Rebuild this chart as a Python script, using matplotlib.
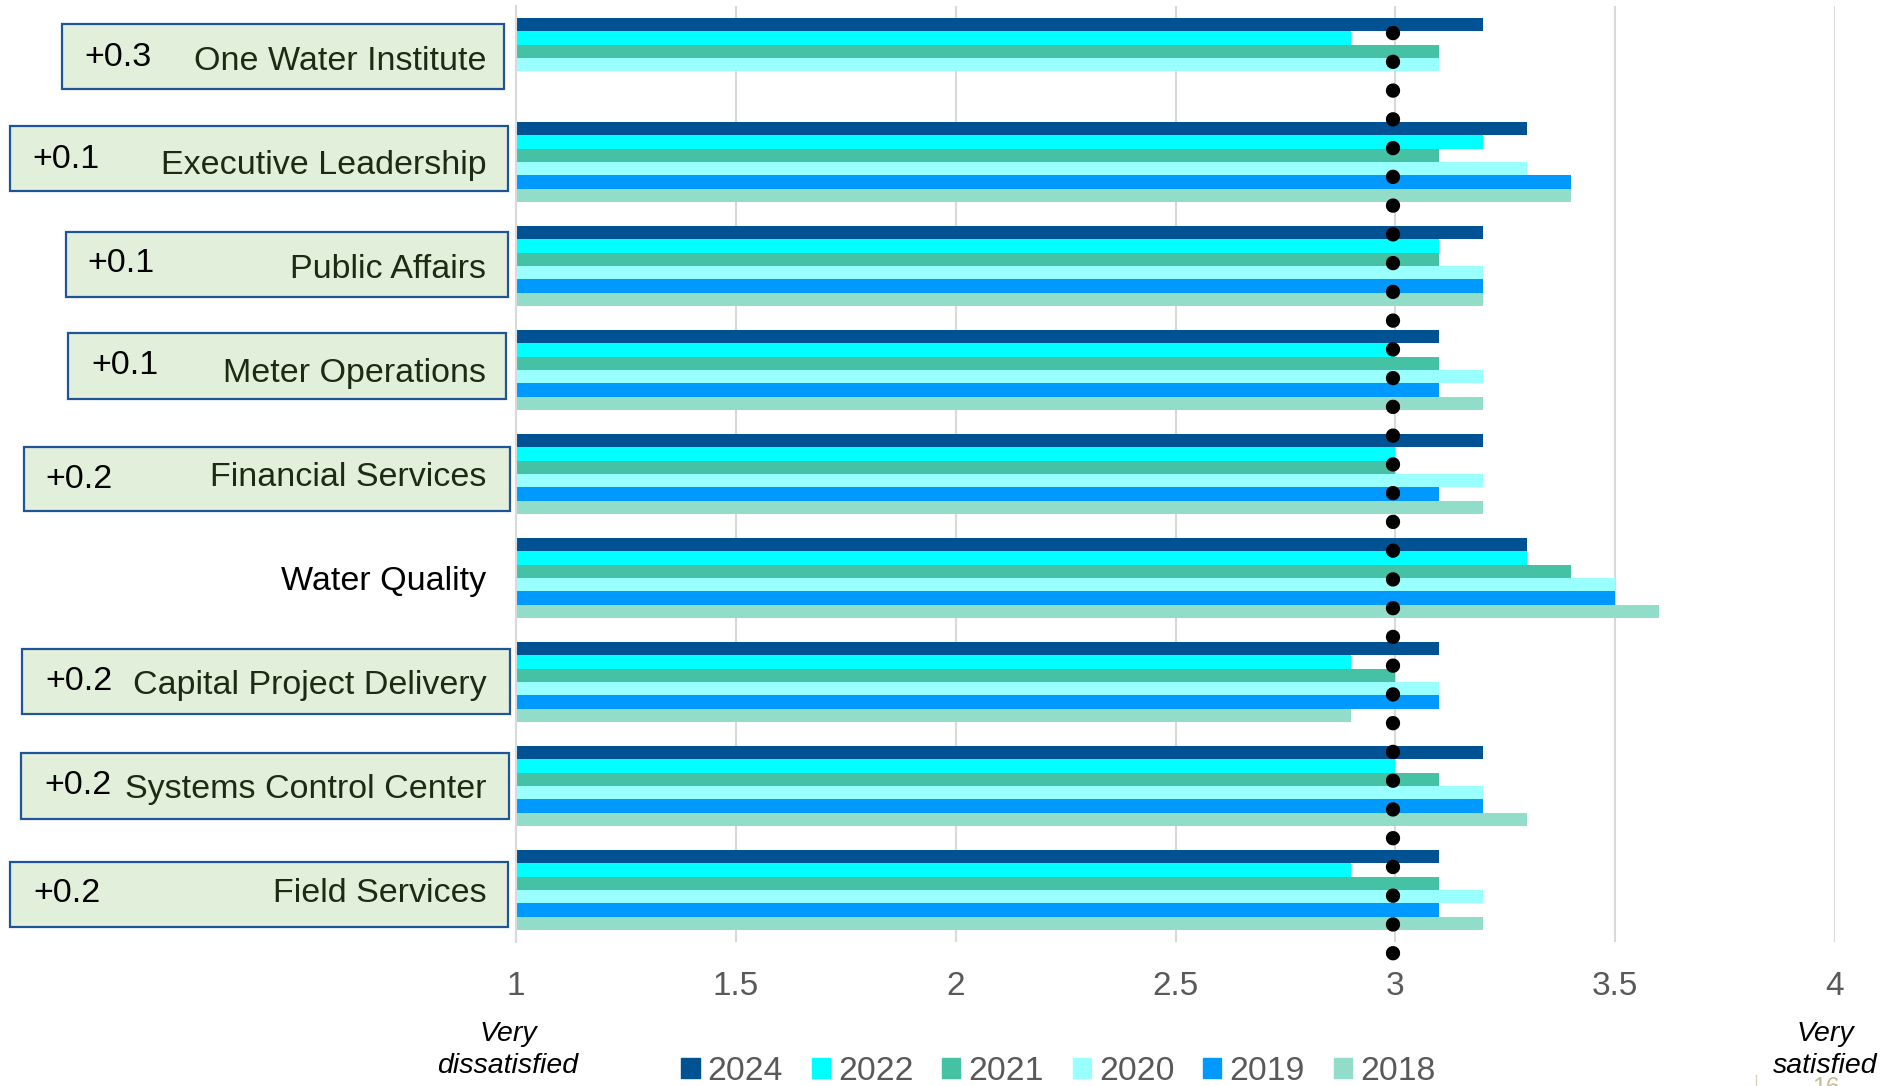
import matplotlib
matplotlib.use("Agg")
import matplotlib.pyplot as plt
import matplotlib.transforms as mtransforms
import numpy as np
from matplotlib.patches import Rectangle, Patch
from matplotlib.lines import Line2D

plt.rcParams['font.family'] = ['Liberation Sans', 'DejaVu Sans']

# --- data ---
categories = ["One Water Institute", "Executive Leadership", "Public Affairs",
              "Meter Operations", "Financial Services", "Water Quality",
              "Capital Project Delivery", "Systems Control Center", "Field Services"]
deltas = ["+0.3", "+0.1", "+0.1", "+0.1", "+0.2", "", "+0.2", "+0.2", "+0.2"]
years = ["2024", "2022", "2021", "2020", "2019", "2018"]
s2024 = [3.2, 3.3, 3.2, 3.1, 3.2, 3.3, 3.1, 3.2, 3.1]
s2022 = [2.9, 3.2, 3.1, 3.0, 3.0, 3.3, 2.9, 3.0, 2.9]
s2021 = [3.1, 3.1, 3.1, 3.1, 3.0, 3.4, 3.0, 3.1, 3.1]
s2020 = [3.1, 3.3, 3.2, 3.2, 3.2, 3.5, 3.1, 3.2, 3.2]
s2019 = [np.nan, 3.4, 3.2, 3.1, 3.1, 3.5, 3.1, 3.2, 3.1]
s2018 = [np.nan, 3.4, 3.2, 3.2, 3.2, 3.6, 2.9, 3.3, 3.2]
series = [s2024, s2022, s2021, s2020, s2019, s2018]
ref_value = 3  # neutral line
xticks = [1, 1.5, 2, 2.5, 3, 3.5, 4]
xticklabels = ["1", "1.5", "2", "2.5", "3", "3.5", "4"]

colors = ['#005292', '#00FFFF', '#45C1A3', '#99FFFF', '#0099FF', '#92DCCA']

W, H = 1900, 1086
fig = plt.figure(figsize=(19, 10.86), dpi=100)
ax = fig.add_axes([516 / W, 1 - 942 / H, (1835 - 516) / W, 936 / H])

y = np.arange(len(categories))
bar_h = 0.128
for j, (vals, c) in enumerate(zip(series, colors)):
    v = np.array(vals, dtype=float)
    ax.barh(y + (j - 2.5) * bar_h, v - 1, left=1, height=bar_h, color=c, label=years[j], zorder=2)

ax.set_xlim(1, 4)
ax.set_ylim(len(categories) - 0.5, -0.5)
ax.set_xticks(xticks)
ax.set_xticklabels(xticklabels)
ax.grid(axis='x', color='#D9D9D9', lw=1.5, zorder=0)
for s in ['top', 'right', 'bottom']:
    ax.spines[s].set_visible(False)
ax.spines['left'].set_color('#D9D9D9')
ax.spines['left'].set_linewidth(1.5)
ax.tick_params(axis='x', length=0, pad=21, labelsize=24, labelcolor='#595959')
ax.tick_params(axis='y', length=0, pad=21.5, labelsize=24.5)
ax.set_yticks(y)
ax.set_yticklabels(categories)
for lab, d in zip(ax.get_yticklabels(), deltas):
    lab.set_color('#1E2B14' if d else 'black')

# dotted reference line of round dots (drawn a hair left, as in the original)
shift = mtransforms.ScaledTranslation(-2 / 100, 0, fig.dpi_scale_trans)
ax.plot([ref_value, ref_value], [-0.2433, 8.65], color='black', lw=10.3,
        linestyle=(0, (0.01, 2.0)), dash_capstyle='round', clip_on=False, zorder=4,
        transform=ax.transData + shift)

# boxes around labels (pixel boxes: x0, top, x1, bottom)
boxes = [(62, 24, 504, 89), (10, 126, 508, 191), (66, 232, 508, 297),
         (68, 333, 506, 399), (24, 447, 510, 511), None,
         (22, 649, 510, 714), (21, 753, 509, 819), (10, 862, 508, 927)]
delta_pos = [(84, 57), (32, 159), (87, 264), (91, 366), (45, 480), None,
             (45, 682), (44, 786), (33, 894)]
for b, dp, d in zip(boxes, delta_pos, deltas):
    if b is None:
        continue
    x0, t, x1, bt = b
    fig.patches.append(Rectangle((x0 / W, 1 - bt / H), (x1 - x0) / W, (bt - t) / H,
                                 transform=fig.transFigure, facecolor='#E2EFDA',
                                 edgecolor='#1F5596', lw=1.6, zorder=-1))
    fig.text(dp[0] / W, 1 - dp[1] / H, d, ha='left', va='center', fontsize=24.5, color='black')

# end labels
for xc, word in [(508, "dissatisfied"), (1825, "satisfied")]:
    fig.text(xc / W, 1 - 1041 / H, "Very", ha='center', va='baseline', fontsize=20.5,
             style='italic', color='black')
    fig.text(xc / W, 1 - 1073 / H, word, ha='center', va='baseline', fontsize=20.5,
             style='italic', color='black')

handles = [Patch(color=c) for c in colors]
leg = fig.legend(handles, years, ncol=6, loc='center', bbox_to_anchor=(0.557, 0.0138),
                 frameon=False, fontsize=24.3, handlelength=0.54, handleheight=0.54,
                 handletextpad=0.24, columnspacing=0.85, borderpad=0, borderaxespad=0)
for t in leg.get_texts():
    t.set_color('#595959')

# page number remnant at the slide's bottom edge
fig.text(1812 / W, 1 - 1076 / H, "16", ha='left', va='top', fontsize=18, color='#C8BD95',
         zorder=0)
fig.lines.append(Line2D([1756 / W, 1756 / W], [0, 1 - 1075 / H], transform=fig.transFigure,
                        color='#D8D2BC', lw=1))

fig.savefig("out.png", dpi=100)
